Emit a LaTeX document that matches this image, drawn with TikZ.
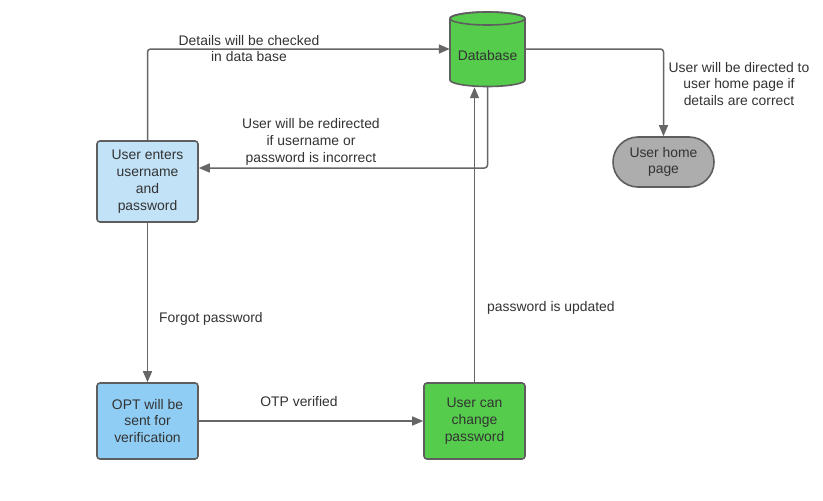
\documentclass[tikz,border=0pt]{standalone}
\usepackage{fontspec}
\setmainfont{Liberation Sans}
\usetikzlibrary{arrows.meta}
\definecolor{txt}{HTML}{333333}
\definecolor{edge}{HTML}{5E5E5E}
\definecolor{lineg}{HTML}{666666}
\definecolor{lblue}{HTML}{C2E2F7}
\definecolor{mblue}{HTML}{90CDF4}
\definecolor{dbgreen}{HTML}{55CC4C}
\definecolor{hgray}{HTML}{ADADAD}
\begin{document}
\begin{tikzpicture}[x=1pt,y=-1pt,
  font=\fontsize{13.9}{16.8}\selectfont, text=txt,
  box/.style={draw=edge, line width=1.6pt, rounded corners=3pt, minimum width=101pt, align=center, inner sep=0pt},
  conn/.style={draw=lineg, line width=1.5pt, rounded corners=3pt, -{Triangle[length=11pt,width=9pt]}},
  lbl/.style={align=center, inner sep=0pt}]
\useasboundingbox[fill=white] (0,0) rectangle (823,501);
% nodes
\node[box, fill=lblue, minimum height=81pt] (enter) at (147.5,181.5) {User enters\\username\\and\\password};
\node[box, fill=mblue, minimum height=76pt] (otp) at (147.5,421) {OPT will be\\sent for\\verification};
\node[box, fill=dbgreen, minimum height=76pt] (chg) at (474.5,421) {User can\\change\\password};
\node[box, fill=hgray, minimum height=50pt, rounded corners=25pt] (home) at (663.5,162) {User home\\page};
% database cylinder
\filldraw[fill=dbgreen, draw=edge, line width=1.6pt] (450,18.5) -- (450,80) arc[start angle=180, end angle=0, x radius=37.5, y radius=6.5] -- (525,18.5) arc[start angle=0, end angle=-180, x radius=37.5, y radius=6.5] -- cycle;
\draw[draw=edge, line width=1.6pt] (487.5,18.5) ellipse[x radius=37.5, y radius=6.5];
\node[minimum width=75pt, minimum height=76pt, inner sep=0pt] (db) at (487.5,49) {};
\node[lbl] (dbt) at (487.5,56) {Database};
% connectors
\coordinate (r) at (0,168);
\draw[conn] (enter.north) |- (db.west);
\draw[conn] (db.south) |- (enter.east |- r);
\draw[conn] (db.east) -| (home.north);
\draw[conn] (enter.south) -- (otp.north);
\draw[conn] (otp.east) -- (chg.west);
\draw[conn] (chg.north) -- (chg.north |- db.south);
% labels
\node[lbl] (l1) at (249,48.5) {Details will be checked\\in data base};
\node[lbl] (l2) at (311,142) {User will be redirected\\if username or\\password is incorrect};
\node[lbl] (l3) at (739,84) {User will be directed to\\user home page if\\details are correct};
\node[lbl, anchor=west] (l4) at (159,318.5) {Forgot password};
\node[lbl, anchor=west] (l5) at (487,308) {password is updated};
\node[lbl] (l6) at (299,401.5) {OTP verified};
\end{tikzpicture}
\end{document}
